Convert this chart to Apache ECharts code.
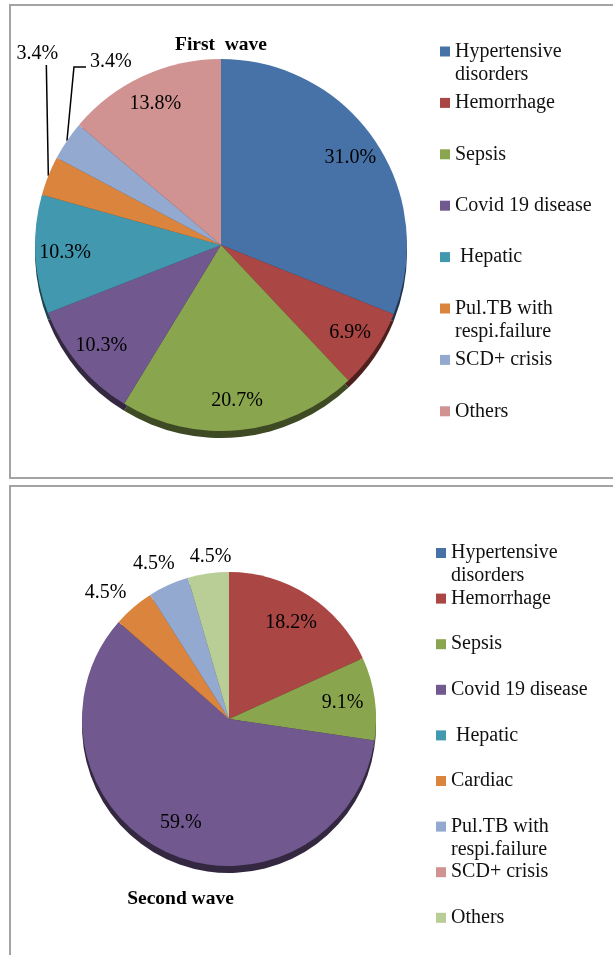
<!DOCTYPE html>
<html>
<head>
<meta charset="utf-8">
<script src="https://cdn.jsdelivr.net/npm/echarts@6/dist/echarts.min.js"></script>
<style>
    html, body { margin: 0; padding: 0; background: #fff; }
    #chart { width: 613px; height: 955px; }
</style>
</head>
<body>
<div id="chart"></div>
<script>
// first wave
const namesFirst = ['Hypertensive\ndisorders', 'Hemorrhage', 'Sepsis', 'Covid 19 disease', ' Hepatic', 'Pul.TB with\nrespi.failure', 'SCD+ crisis', 'Others'];
const valuesFirst = [31.0, 6.9, 20.7, 10.3, 10.3, 3.4, 3.4, 13.8];
const labelsFirst = ['31.0%', '6.9%', '20.7%', '10.3%', '10.3%', '3.4%', '3.4%', '13.8%'];

// second wave
const namesSecond = ['Hypertensive\ndisorders', 'Hemorrhage', 'Sepsis', 'Covid 19 disease', ' Hepatic', 'Cardiac', 'Pul.TB with\nrespi.failure', 'SCD+ crisis', 'Others'];
const valuesSecond = [0, 18.2, 9.1, 59.1, 0, 4.5, 4.5, 0, 4.5];
const labelsSecond = ['', '18.2%', '9.1%', '59.%', '', '4.5%', '4.5%', '', '4.5%'];

const colorsFirst = ['#4672A8', '#AA4643', '#89A54E', '#71588F', '#4198AF', '#DB843D', '#93A9CF', '#D19392'];
const colorsSecond = ['#4672A8', '#AA4643', '#89A54E', '#71588F', '#4198AF', '#DB843D', '#93A9CF', '#D19392', '#B9CD96'];

const FONT = '"Liberation Serif", "Times New Roman", serif';

const geoFirst = {cx: 221, cy: 245, r: 186, inner: 0.84, legendLeft: 440, legendTop: 51.5, legendStep: 51.4};
const geoSecond = {cx: 229, cy: 719, r: 147, inner: 0.78, legendLeft: 436, legendTop: 553, legendStep: 45.6};

const chart = echarts.init(document.getElementById('chart'));

function darken(hex, k) {
    const n = parseInt(hex.slice(1), 16);
    const c = [(n >> 16) & 255, (n >> 8) & 255, n & 255].map(v => Math.round(v * k));
    return 'rgb(' + c.join(',') + ')';
}

function midAngle(values, i) {
    const total = values.reduce((a, b) => a + b, 0);
    let cum = 0;
    for (let j = 0; j < i; j++) cum += values[j];
    return (cum + values[i] / 2) / total * Math.PI * 2;
}

function edgePoint(geo, a, rr) {
    return [geo.cx + rr * Math.sin(a), geo.cy - rr * Math.cos(a)];
}

// labels: inside ones sit near the rim, the two thin slices get callouts
function layoutFirst(params) {
    const i = params.dataIndex;
    const a = midAngle(valuesFirst, i);
    const e = edgePoint(geoFirst, a, geoFirst.r);
    if (i === 5) {
        return {x: e[0] - 11, y: 54, align: 'center', verticalAlign: 'middle',
            labelLinePoints: [e, [e[0] - 2, 65]]};
    }
    if (i === 6) {
        return {x: e[0] + 23, y: 62, align: 'left', verticalAlign: 'middle',
            labelLinePoints: [e, [e[0] + 7, 67], [e[0] + 19, 67]]};
    }
    const p = edgePoint(geoFirst, a, geoFirst.r * geoFirst.inner);
    return {x: p[0], y: p[1], align: 'center', verticalAlign: 'middle'};
}

// small outside labels of the second wave, nudged like the original
const nudgeSecond = {5: [-11, 5], 6: [-4, 2], 8: [6, 9]};

function layoutSecond(params) {
    const i = params.dataIndex;
    const a = midAngle(valuesSecond, i);
    const n = nudgeSecond[i];
    const p = edgePoint(geoSecond, a, n ? geoSecond.r + 26 : geoSecond.r * geoSecond.inner);
    if (n) {
        p[0] += n[0];
        p[1] += n[1];
    }
    return {x: p[0], y: p[1], align: 'center', verticalAlign: 'middle'};
}

function pieData(names, values, labels, colors, withLeaders) {
    return names.map((name, i) => {
        const lead = withLeaders.indexOf(i) >= 0;
        return {
            name: name,
            value: values[i],
            itemStyle: {color: colors[i]},
            label: {show: values[i] > 0, formatter: labels[i], position: lead ? 'outside' : 'inside'},
            labelLine: {show: lead, lineStyle: {color: '#000', width: 1.5}}
        };
    });
}

function rimData(names, values, colors) {
    return names.map((name, i) => ({name: name, value: values[i], itemStyle: {color: darken(colors[i], 0.45)}}));
}

function pieSeries(geo, data, layout) {
    return {
        type: 'pie',
        center: [geo.cx, geo.cy],
        radius: [0, geo.r],
        startAngle: 90,
        clockwise: true,
        avoidLabelOverlap: false,
        z: 2,
        itemStyle: {borderWidth: 0, borderRadius: 0},
        label: {color: '#000', fontFamily: FONT, fontSize: 20},
        emphasis: {disabled: true},
        labelLayout: layout,
        data: data
    };
}

function rimSeries(geo, data) {
    return {
        type: 'pie',
        center: [geo.cx, geo.cy + 7],
        radius: [0, geo.r],
        startAngle: 90,
        clockwise: true,
        silent: true,
        z: 1,
        itemStyle: {borderWidth: 0},
        label: {show: false},
        labelLine: {show: false},
        emphasis: {disabled: true},
        data: data
    };
}

// one legend per entry so the rows keep the original spacing;
// two-line names get an empty line on top so the square sits on the first line
function legends(names, colors, geo) {
    return names.map((name, i) => {
        const twoLines = name.indexOf('\n') >= 0;
        return {
            data: [{name: name, itemStyle: {color: colors[i]}}],
            formatter: n => (twoLines ? '\n' + n : n),
            orient: 'vertical',
            left: geo.legendLeft,
            top: geo.legendTop + i * geo.legendStep - (twoLines ? 34.5 : 11.5),
            padding: 0,
            icon: 'rect',
            itemWidth: 10,
            itemHeight: 10,
            selectedMode: false,
            textStyle: {fontFamily: FONT, fontSize: 20, lineHeight: 23, color: '#111'}
        };
    });
}

const option = {
    animation: false,
    backgroundColor: '#fff',
    graphic: [
        {type: 'rect', shape: {x: 10, y: 5, width: 640, height: 473}, style: {fill: 'none', stroke: '#a3a3a3', lineWidth: 2}},
        {type: 'rect', shape: {x: 10, y: 486, width: 640, height: 520}, style: {fill: 'none', stroke: '#a3a3a3', lineWidth: 2}},
        {type: 'text', x: 221, y: 45, style: {text: 'First  wave', font: 'bold 19.5px ' + FONT, fill: '#000', align: 'center', verticalAlign: 'middle'}},
        {type: 'text', x: 180.5, y: 899, style: {text: 'Second wave', font: 'bold 19.5px ' + FONT, fill: '#000', align: 'center', verticalAlign: 'middle'}}
    ],
    legend: legends(namesFirst, colorsFirst, geoFirst).concat(legends(namesSecond, colorsSecond, geoSecond)),
    series: [
        rimSeries(geoFirst, rimData(namesFirst, valuesFirst, colorsFirst)),
        pieSeries(geoFirst, pieData(namesFirst, valuesFirst, labelsFirst, colorsFirst, [5, 6]), layoutFirst),
        rimSeries(geoSecond, rimData(namesSecond, valuesSecond, colorsSecond)),
        pieSeries(geoSecond, pieData(namesSecond, valuesSecond, labelsSecond, colorsSecond, []), layoutSecond)
    ]
};

chart.setOption(option);
</script>
</body>
</html>
